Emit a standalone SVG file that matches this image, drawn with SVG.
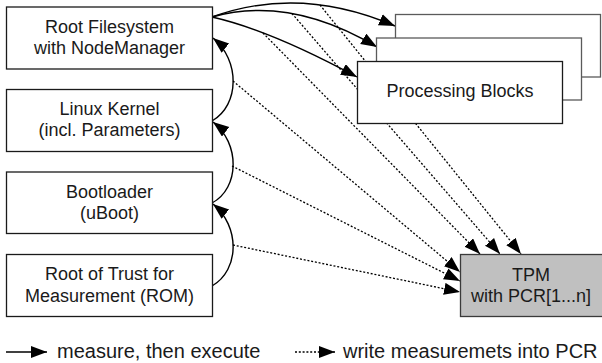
<svg xmlns="http://www.w3.org/2000/svg" width="602" height="363" viewBox="0 0 602 363">
  <style>
    .box { fill: #ffffff; stroke: #1a1a1a; stroke-width: 1.3; }
    .box-back { fill: #ffffff; stroke: #5a5a5a; stroke-width: 1.3; }
    .tpm { fill: #c0c0c0; stroke: #3a3a3a; stroke-width: 1.3; }
    .lbl { font-family: "Liberation Sans", Arial, sans-serif; font-size: 18px; fill: #1a1a1a; text-anchor: middle; }
    .legend { font-family: "Liberation Sans", Arial, sans-serif; font-size: 20px; fill: #1a1a1a; }
    .solid { fill: none; stroke: #000; stroke-width: 1.4; marker-end: url(#head); }
    .dotted { fill: none; stroke: #000; stroke-width: 1.3; stroke-dasharray: 2 1.8; marker-end: url(#head); }
  </style>
  <defs>
    <marker id="head" markerUnits="userSpaceOnUse" markerWidth="17" markerHeight="13" refX="16" refY="6" orient="auto">
      <path d="M0,0 L16,6 L0,12 z" fill="#000"/>
    </marker>
  </defs>

  <!-- connectors: boot chain, processing-block launches and PCR writes -->
  <g id="connectors">
    <!-- measure, then execute -->
    <path class="solid" d="M212,286 C240,270 240,226 213,204"/>
    <path class="solid" d="M212,203 C240,188 240,143 213,122"/>
    <path class="solid" d="M212,121 C240,105 240,60 213,38"/>
    <path class="solid" d="M212,17 Q300,-15 395,26"/>
    <path class="solid" d="M212,17 Q290,-5 377,47"/>
    <path class="solid" d="M212,17 Q270,30 357,77"/>
    <!-- write measurements into PCR -->
    <path class="dotted" d="M233,245 L460,292"/>
    <path class="dotted" d="M232,166 L460,281"/>
    <path class="dotted" d="M233,81 L460,272"/>
    <path class="dotted" d="M263,33 L480,254"/>
    <path class="dotted" d="M292,13.5 L500,254"/>
    <path class="dotted" d="M320,5 L521,254"/>
  </g>

  <g id="rootfs">
    <rect class="box" x="6.5" y="7" width="206" height="62"/>
    <text class="lbl" x="109.5" y="33">Root Filesystem</text>
    <text class="lbl" x="109.5" y="54">with NodeManager</text>
  </g>
  <g id="kernel">
    <rect class="box" x="6.5" y="89.5" width="206" height="62"/>
    <text class="lbl" x="109.5" y="115">Linux Kernel</text>
    <text class="lbl" x="109.5" y="136">(incl. Parameters)</text>
  </g>
  <g id="bootloader">
    <rect class="box" x="6.5" y="172" width="206" height="61.5"/>
    <text class="lbl" x="109.5" y="198">Bootloader</text>
    <text class="lbl" x="109.5" y="219">(uBoot)</text>
  </g>
  <g id="rtm">
    <rect class="box" x="6.5" y="254.5" width="206" height="62"/>
    <text class="lbl" x="109.5" y="280">Root of Trust for</text>
    <text class="lbl" x="109.5" y="301.5">Measurement (ROM)</text>
  </g>

  <g id="processing-blocks">
    <rect class="box-back" x="395.5" y="14.5" width="205" height="62.5"/>
    <rect class="box-back" x="376.5" y="38" width="205" height="62"/>
    <rect class="box" x="357.5" y="61.5" width="205" height="62"/>
    <text class="lbl" x="460" y="97">Processing Blocks</text>
  </g>

  <g id="tpm">
    <rect class="tpm" x="460.5" y="254.5" width="143" height="62"/>
    <text class="lbl" x="531" y="281">TPM</text>
    <text class="lbl" x="531" y="302">with PCR[1...n]</text>
  </g>

  <g id="legend">
    <path class="solid" d="M6,352 L47,352"/>
    <text class="legend" x="57" y="358">measure, then execute</text>
    <path class="dotted" d="M295,352 L335,352"/>
    <text class="legend" x="343" y="358">write measuremets into PCR</text>
  </g>
</svg>
